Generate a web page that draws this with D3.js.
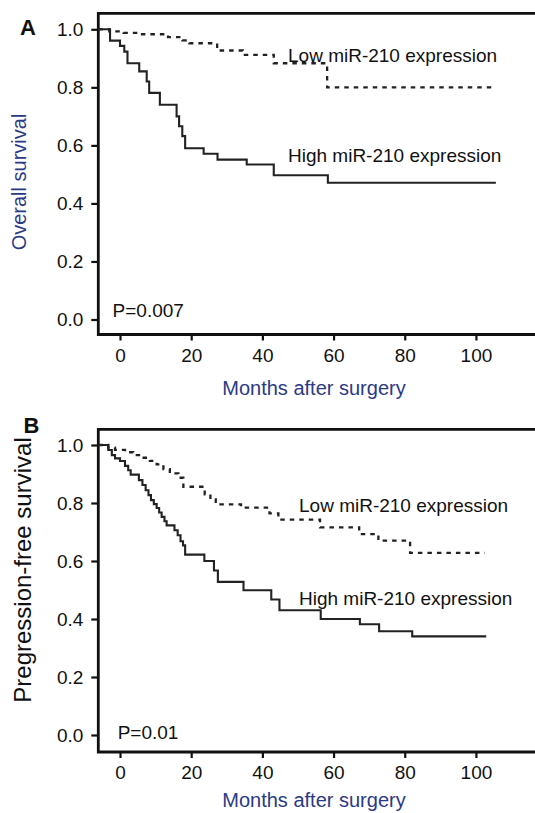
<!DOCTYPE html>
<html>
<head>
<meta charset="utf-8">
<script src="https://cdn.jsdelivr.net/npm/d3@7"></script>
<style>
  body { margin: 0; background: #fff; }
  svg { display: block; }
  text { font-family: "Liberation Sans", Arial, sans-serif; }
</style>
</head>
<body>
<div id="chart"></div>
<script>
// ---- data (months after surgery / survival proportion) ----
// each curve starts at the left frame and ends at its last follow-up time
const xTicks = [0, 20, 40, 60, 80, 100];
const yTicks = [0, 0.2, 0.4, 0.6, 0.8, 1.0];

// panel A, overall survival
const osHighTimes = [-6.1, -2.8, 0.0, 1.2, 2.1, 5.4, 7.5, 8.2, 11.2, 15.9, 16.6, 17.5, 18.3, 23.5, 27.4, 35.6, 43.2, 58.4, 105.6];
const osHighSurv  = [1.0, 0.961, 0.943, 0.923, 0.883, 0.855, 0.820, 0.781, 0.740, 0.700, 0.666, 0.632, 0.590, 0.571, 0.551, 0.534, 0.497, 0.471, 0.471];
const osLowTimes  = [-6.1, -3.0, 1.0, 5.0, 13.5, 17.5, 19.5, 27.3, 34.5, 43.2, 58.2, 105.0];
const osLowSurv   = [1.0, 0.993, 0.988, 0.983, 0.973, 0.962, 0.952, 0.927, 0.912, 0.883, 0.800, 0.800];

// panel B, progression-free survival
const pfsHighTimes = [-6.1, -3.3, -2.3, -1.4, 0.0, 1.4, 2.3, 3.0, 5.3, 6.3, 7.2, 8.0, 8.7, 9.5, 10.3, 11.0, 11.7, 12.5, 13.1, 15.3, 16.2, 17.0, 17.7, 18.3, 23.7, 26.4, 27.5, 34.7, 42.5, 44.8, 56.4, 67.4, 72.8, 82.1, 102.9];
const pfsHighSurv  = [1.0, 0.983, 0.965, 0.954, 0.945, 0.928, 0.913, 0.898, 0.879, 0.862, 0.844, 0.827, 0.810, 0.796, 0.783, 0.767, 0.752, 0.737, 0.723, 0.706, 0.689, 0.668, 0.654, 0.622, 0.600, 0.567, 0.528, 0.499, 0.467, 0.430, 0.400, 0.382, 0.358, 0.340, 0.340];
const pfsLowTimes  = [-6.1, -3.3, -1.4, 1.4, 3.7, 6.1, 8.4, 10.3, 12.2, 14.0, 16.4, 17.8, 23.8, 25.4, 26.9, 34.0, 42.0, 44.5, 56.2, 67.2, 72.6, 81.5, 102.5];
const pfsLowSurv   = [1.0, 0.991, 0.983, 0.975, 0.965, 0.956, 0.945, 0.933, 0.917, 0.902, 0.887, 0.856, 0.830, 0.812, 0.795, 0.784, 0.764, 0.743, 0.716, 0.693, 0.670, 0.628, 0.628];

const width = 535;
const height = 813;
const navy = "#2b3a86";

const svg = d3.select("#chart").append("svg")
  .attr("width", width)
  .attr("height", height)
  .attr("viewBox", "0 0 " + width + " " + height);

const x = d3.scaleLinear().domain([-6.1, 116.6]).range([98.3, 535]);

function drawPanel(p) {
  let y = d3.scaleLinear().domain([0, 1]).range([p.y0, p.y1]);
  let g = svg.append("g");

  // frame: top line, left axis, bottom axis (open at the right)
  g.append("path")
    .attr("d", "M" + width + "," + p.top + "H" + x.range()[0] + "V" + p.bottom + "H" + width)
    .attr("fill", "none")
    .attr("stroke", "#111")
    .attr("stroke-width", 2.8);

  let ya = g.append("g")
    .attr("transform", "translate(" + x.range()[0] + ",0)")
    .call(d3.axisLeft(y).tickValues(yTicks).tickSize(7).tickPadding(8).tickFormat(d3.format(".1f")));
  let xa = g.append("g")
    .attr("transform", "translate(0," + p.bottom + ")")
    .call(d3.axisBottom(x).tickValues(xTicks).tickSize(6).tickPadding(8));
  [ya, xa].forEach(a => {
    a.select(".domain").remove();
    a.selectAll(".tick line").attr("stroke", "#111").attr("stroke-width", 2.2);
    a.selectAll(".tick text").attr("fill", "#111").style("font-size", "19px");
  });

  let line = d3.line()
    .x(d => x(d[0]))
    .y(d => y(d[1]))
    .curve(d3.curveStepAfter);

  p.curves.forEach(c => {
    let pts = c.times.map((t, i) => [t, c.surv[i]]);
    g.append("path")
      .datum(pts)
      .attr("d", line)
      .attr("fill", "none")
      .attr("stroke", "#222")
      .attr("stroke-width", c.dash ? 2.3 : 2.1)
      .attr("stroke-dasharray", c.dash ? "4.5,5" : null);
    g.append("text")
      .attr("x", c.lx)
      .attr("y", c.ly)
      .attr("fill", "#111")
      .style("font-size", "19px")
      .text(c.label);
  });

  g.append("text")
    .attr("x", p.px).attr("y", p.py)
    .attr("fill", "#111")
    .style("font-size", "19px")
    .text(p.pval);

  g.append("text")
    .attr("x", p.letterX).attr("y", p.letterY)
    .attr("text-anchor", "middle")
    .attr("fill", "#111")
    .style("font-size", "22px")
    .style("font-weight", "bold")
    .text(p.letter);

  g.append("text")
    .attr("transform", "translate(" + p.ytx + "," + p.yty + ") rotate(-90)")
    .attr("text-anchor", "middle")
    .attr("fill", p.ycol)
    .style("font-size", p.ysize + "px")
    .text(p.ytitle);

  g.append("text")
    .attr("x", 314).attr("y", p.xty)
    .attr("text-anchor", "middle")
    .attr("fill", navy)
    .style("font-size", "20px")
    .text("Months after surgery");
}

drawPanel({
  letter: "A", letterX: 28, letterY: 35,
  top: 13.3, bottom: 334.5, y0: 319.5, y1: 29.3,
  pval: "P=0.007", px: 112.6, py: 317,
  ytitle: "Overall survival", ycol: navy, ysize: 20, ytx: 26, yty: 182,
  xty: 395,
  curves: [
    { times: osLowTimes, surv: osLowSurv, dash: true, label: "Low miR-210 expression", lx: 288, ly: 61.5 },
    { times: osHighTimes, surv: osHighSurv, dash: false, label: "High miR-210 expression", lx: 288, ly: 161.5 }
  ]
});

drawPanel({
  letter: "B", letterX: 31.5, letterY: 433,
  top: 429.3, bottom: 752, y0: 735, y1: 445,
  pval: "P=0.01", px: 117.7, py: 739,
  ytitle: "Pregression-free survival", ycol: "#111", ysize: 24, ytx: 31, yty: 570,
  xty: 807,
  curves: [
    { times: pfsLowTimes, surv: pfsLowSurv, dash: true, label: "Low miR-210 expression", lx: 299, ly: 512.3 },
    { times: pfsHighTimes, surv: pfsHighSurv, dash: false, label: "High miR-210 expression", lx: 299, ly: 605 }
  ]
});
</script>
</body>
</html>
